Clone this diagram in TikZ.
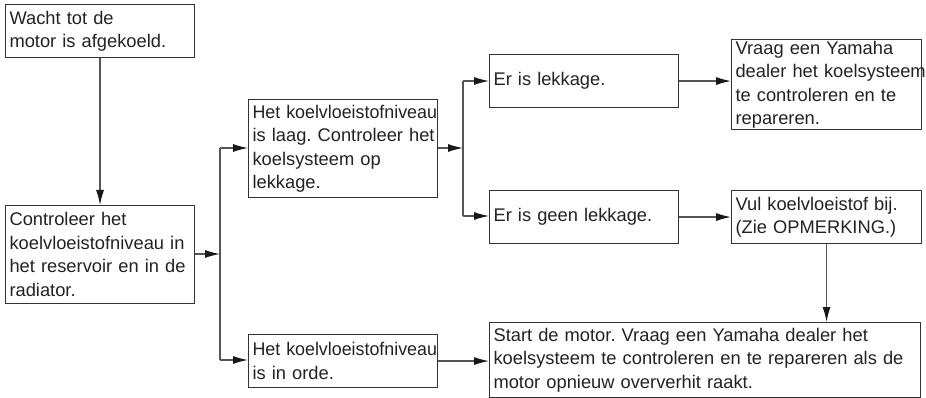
\documentclass[tikz,border=0pt]{standalone}
\usepackage{fontspec}
\usepackage{graphicx}
\setmainfont{Liberation Sans}
\usetikzlibrary{arrows.meta}
\frenchspacing
\definecolor{linec}{HTML}{555555}
\definecolor{boxc}{HTML}{333333}
\definecolor{txtc}{HTML}{222222}
\newcommand\boxline[1]{\mbox{#1}}
\newcommand\tightline[1]{\scalebox{0.975}[1]{#1}}
\tikzset{
  box/.style={draw=boxc, line width=1.1pt, inner xsep=4pt, inner ysep=1pt,
    align=left, anchor=north west, text=txtc,
    font=\fontsize{18.3}{23.5}\selectfont},
  conn/.style={draw=linec, line width=1.2pt},
  arr/.style={conn, -{Latex[length=15pt,width=8pt,color=black!90]}},
}
\begin{document}
\begin{tikzpicture}[x=1pt,y=-1pt]
\useasboundingbox (0,0) rectangle (926,398);
\node[box, text width=181pt, minimum height=53pt] (A) at (5,4) {\boxline{Wacht tot de}\\\boxline{motor is afgekoeld.}};
\node[box, text width=181pt, minimum height=98pt] (B) at (5,205) {\boxline{Controleer het}\\\boxline{koelvloeistofniveau in}\\\boxline{het reservoir en in de}\\\boxline{radiator.}};
\node[box, text width=181pt, minimum height=98pt] (C) at (248,99) {\tightline{Het koelvloeistofniveau}\\\boxline{is laag. Controleer het}\\\boxline{koelsysteem op}\\\boxline{lekkage.}};
\node[box, text width=181pt, minimum height=53pt] (D) at (248,334) {\tightline{Het koelvloeistofniveau}\\\boxline{is in orde.}};
\node[box, text width=181pt, minimum height=53pt] (E) at (489,54) {\boxline{Er is lekkage.}};
\node[box, text width=181pt, minimum height=53pt] (F) at (489,190) {\boxline{Er is geen lekkage.}};
\node[box, text width=182pt, minimum height=90pt] (G) at (731,39) {\boxline{Vraag een Yamaha}\\\boxline{dealer het koelsysteem}\\\boxline{te controleren en te}\\\boxline{repareren.}};
\node[box, text width=182pt, minimum height=53pt] (H) at (731,190) {\boxline{Vul koelvloeistof bij.}\\\boxline{(Zie OPMERKING.)}};
\node[box, text width=423pt, minimum height=75pt] (I) at (489,322) {\boxline{Start de motor. Vraag een Yamaha dealer het}\\\boxline{koelsysteem te controleren en te repareren als de}\\\boxline{motor opnieuw oververhit raakt.}};

\coordinate (s1) at (220,254);
\coordinate (s1t) at (220,148);
\coordinate (s1b) at (220,360);
\coordinate (s2) at (463,148);
\coordinate (s2t) at (463,81);
\coordinate (s2b) at (463,216);

\draw[arr] (A.south) -- (B.north);
\draw[arr] (B.east |- s1) -- (s1);
\draw[conn] (s1t) -- (s1b);
\draw[arr] (s1t) -- (s1t -| C.west);
\draw[arr] (s1b) -- (s1b -| D.west);
\draw[arr] (C.east |- s2) -- (s2);
\draw[conn] (s2t) -- (s2b);
\draw[arr] (s2t) -- (s2t -| E.west);
\draw[arr] (s2b) -- (s2b -| F.west);
\draw[arr] (E.east) -- (E.east -| G.west);
\draw[arr] (F.east) -- (F.east -| H.west);
\draw[arr] (H.south) -- (H.south |- I.north);
\draw[arr] (D.east) -- (D.east -| I.west);
\end{tikzpicture}
\end{document}
